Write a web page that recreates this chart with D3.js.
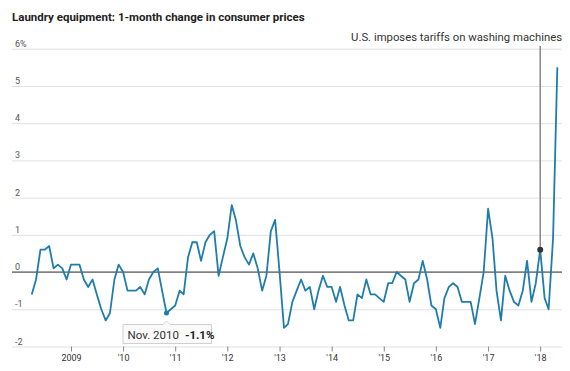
<!DOCTYPE html>
<html>
<head>
<meta charset="utf-8">
<script src="https://cdn.jsdelivr.net/npm/d3@7"></script>
<style>
  body { margin: 0; background: #fff; }
  svg { display: block; }
  text { font-family: Roboto, "Noto Sans", sans-serif; }
</style>
</head>
<body>
<svg id="chart" width="570" height="371"></svg>
<script>
// monthly % change, Apr 2008 .. May 2018
var startMonth = "2008-04";
var change = [
  -0.6, -0.2, 0.6, 0.6, 0.7, 0.1, 0.2, 0.1, -0.2,                  // 2008 (Apr-Dec)
  0.2, 0.2, 0.2, -0.2, -0.4, -0.2, -0.6, -1.0, -1.3, -1.1, -0.2, 0.2, // 2009
  0.0, -0.5, -0.5, -0.5, -0.4, -0.6, -0.2, 0.0, 0.1, -0.5, -1.1, -1.0, // 2010
  -0.9, -0.5, -0.6, 0.4, 0.8, 0.8, 0.3, 0.8, 1.0, 1.1, -0.1, 0.4,   // 2011
  0.9, 1.8, 1.4, 0.7, 0.4, 0.2, 0.5, 0.1, -0.5, -0.1, 1.1, 1.4,     // 2012
  0.0, -1.5, -1.4, -0.8, -0.5, -0.2, -0.5, -0.4, -1.0, -0.5, -0.1, -0.4, // 2013
  -0.4, -0.8, -0.4, -0.9, -1.3, -1.3, -0.6, -0.7, -0.2, -0.6, -0.6, -0.7, // 2014
  -0.8, -0.3, -0.3, 0.0, -0.1, -0.2, -0.8, -0.3, -0.2, 0.3, -0.2, -0.9, // 2015
  -1.0, -1.5, -0.7, -0.4, -0.3, -0.4, -0.8, -0.8, -0.8, -1.4, -0.7, 0.0, // 2016
  1.7, 0.9, -0.5, -1.3, -0.1, -0.5, -0.8, -0.9, -0.5, 0.3, -0.8, -0.3,  // 2017
  0.6, -0.7, -1.0, 0.9, 5.5                                          // 2018 (Jan-May)
];
var yTicks = [-2, -1, 0, 1, 2, 3, 4, 5, 6];
var yearTicks = [2009, 2010, 2011, 2012, 2013, 2014, 2015, 2016, 2017, 2018];

var lowPoint = { month: "2010-11", label: "Nov. 2010", value: "-1.1%" };
var tariff = { month: "2018-01", label: "U.S. imposes tariffs on washing machines" };

var title = "Laundry equipment: 1-month change in consumer prices";

var lineColor = "#1f7dae";

var parseMonth = d3.timeParse("%Y-%m");
var start = parseMonth(startMonth);
var data = change.map(function(v, i) {
  return { date: d3.timeMonth.offset(start, i), value: v };
});

var svg = d3.select("#chart");

var x = d3.scaleTime()
  .domain([new Date(2009, 0, 1), new Date(2018, 0, 1)])
  .range([71, 540.2]);
var y = d3.scaleLinear()
  .domain([-2, 6])
  .range([346.5, 48.7]);

svg.append("text")
  .attr("x", 12)
  .attr("y", 20.5)
  .attr("font-size", 11.5)
  .attr("font-weight", "bold")
  .attr("fill", "#222")
  .text(title);

// gridlines + labels
var yAxis = svg.append("g")
  .attr("transform", "translate(12,0)")
  .call(d3.axisRight(y).tickValues(yTicks).tickSize(550)
    .tickFormat(function(d) { return d === 6 ? "6%" : String(d); }));
yAxis.select(".domain").remove();
yAxis.selectAll(".tick line").attr("stroke", "#e0e0e0");
yAxis.selectAll(".tick text")
  .attr("x", 3)
  .attr("dy", -2.5)
  .attr("text-anchor", "start")
  .attr("font-size", 9)
  .attr("font-family", null)
  .attr("fill", "#555");

// zero line
svg.append("line")
  .attr("x1", 12).attr("x2", 562)
  .attr("y1", y(0)).attr("y2", y(0))
  .attr("stroke", "#333").attr("stroke-width", 1);

// x axis
var xAxis = svg.append("g")
  .attr("transform", "translate(0," + y(-2) + ")")
  .call(d3.axisBottom(x)
    .tickValues(yearTicks.map(function(yr) { return new Date(yr, 0, 1); }))
    .tickSize(5)
    .tickPadding(3)
    .tickFormat(function(d) {
      var yr = d.getFullYear();
      return yr === 2009 ? "2009" : "'" + String(yr).slice(2);
    }));
xAxis.select(".domain").remove();
xAxis.selectAll(".tick line").attr("stroke", "#888");
xAxis.selectAll(".tick text")
  .attr("font-size", 9)
  .attr("font-family", null)
  .attr("fill", "#333");

// tariff marker
var tDate = parseMonth(tariff.month);
var tVal = data.find(function(d) { return +d.date === +tDate; }).value;
svg.append("line")
  .attr("x1", x(tDate)).attr("x2", x(tDate))
  .attr("y1", 46).attr("y2", y(tVal))
  .attr("stroke", "#888").attr("stroke-width", 1.5);

svg.append("text")
  .attr("x", 562)
  .attr("y", 40.5)
  .attr("text-anchor", "end")
  .attr("font-size", 11.3)
  .attr("fill", "#333")
  .text(tariff.label);

// series line
var line = d3.line()
  .x(function(d) { return x(d.date); })
  .y(function(d) { return y(d.value); });

svg.append("path")
  .datum(data)
  .attr("fill", "none")
  .attr("stroke", lineColor)
  .attr("stroke-width", 1.8)
  .attr("stroke-linejoin", "round")
  .attr("d", line);

svg.append("circle")
  .attr("cx", x(tDate)).attr("cy", y(tVal))
  .attr("r", 3)
  .attr("fill", "#333");

// low point callout
var lDate = parseMonth(lowPoint.month);
var lVal = data.find(function(d) { return +d.date === +lDate; }).value;
var lx = x(lDate), ly = y(lVal);

svg.append("circle")
  .attr("cx", lx).attr("cy", ly)
  .attr("r", 2.5)
  .attr("fill", lineColor);

var box = svg.append("g");
box.append("path")
  .attr("d", "M123,324.5 H" + (lx - 3.5) + " L" + lx + ",321 L" + (lx + 3.5) + ",324.5 H211.5 V343.5 H123 Z")
  .attr("fill", "#fafafa")
  .attr("stroke", "#d0d0d0");
var lbl = box.append("text")
  .attr("x", 127.5)
  .attr("y", 339)
  .attr("font-size", 11.5)
  .attr("fill", "#333");
lbl.append("tspan").text(lowPoint.label);
lbl.append("tspan")
  .attr("dx", 6)
  .attr("font-weight", "bold")
  .attr("fill", "#222")
  .text(lowPoint.value);
</script>
</body>
</html>
